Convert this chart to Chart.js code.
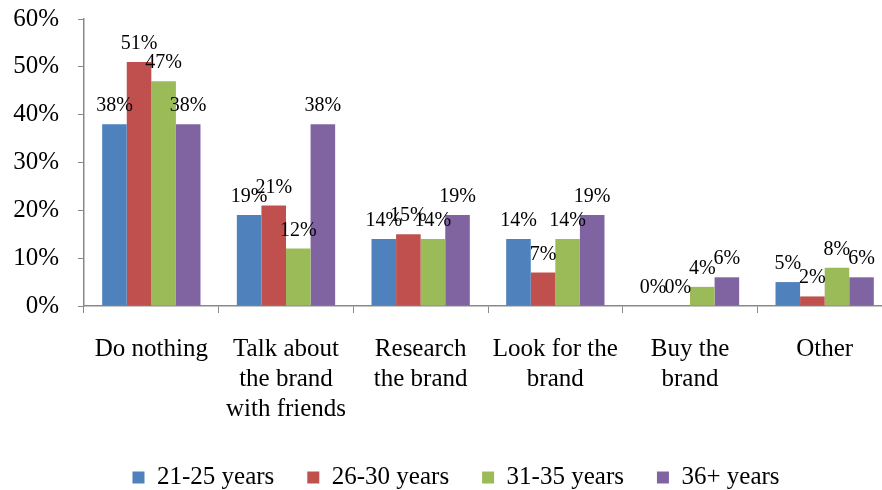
<!DOCTYPE html>
<html>
<head>
<meta charset="utf-8">
<script src="https://cdn.jsdelivr.net/npm/chart.js@4/dist/chart.umd.min.js"></script>
<style>
  html, body { margin: 0; padding: 0; background: #fff; overflow: hidden; }
  #wrap { width: 892px; height: 490px; }
</style>
</head>
<body>
<div id="wrap"><canvas id="chart" width="892" height="490"></canvas></div>
<script>
const categories = [
  ["Do nothing"],
  ["Talk about", "the brand", "with friends"],
  ["Research", "the brand"],
  ["Look for the", "brand"],
  ["Buy the", "brand"],
  ["Other"],
];
const ages = ["21-25 years", "26-30 years", "31-35 years", "36+ years"];
const age21to25 = [38, 19, 14, 14, 0, 5];
const age26to30 = [51, 21, 15, 7, 0, 2];
const age31to35 = [47, 12, 14, 14, 4, 8];
const age36plus = [38, 38, 19, 19, 6, 6];
const yTicks = [0, 10, 20, 30, 40, 50, 60];

const colors = ["#4F81BD", "#C0504D", "#9BBB59", "#8064A2"];
const AXIS = "#898989";
const SERIF = "'Liberation Serif', 'Times New Roman', serif";

// percent labels above each bar
const barLabels = {
  id: "barLabels",
  afterDatasetsDraw(chart) {
    const { ctx } = chart;
    ctx.save();
    ctx.font = `20px ${SERIF}`;
    ctx.fillStyle = "#000";
    ctx.textAlign = "center";
    ctx.textBaseline = "alphabetic";
    chart.data.datasets.forEach((ds, i) => {
      chart.getDatasetMeta(i).data.forEach((bar, j) => {
        ctx.fillText(ds.data[j] + "%", bar.x, bar.y - 13);
      });
    });
    ctx.restore();
  },
};

// nudge the legend row a little to the right
const legendShift = {
  id: "legendShift",
  afterLayout(chart) {
    if (chart.legend) chart.legend.left += 20;
  },
};

new Chart(document.getElementById("chart"), {
  type: "bar",
  data: {
    labels: categories,
    datasets: [age21to25, age26to30, age31to35, age36plus].map((d, i) => ({
      label: ages[i],
      data: d,
      backgroundColor: colors[i],
      categoryPercentage: 0.73,
      barPercentage: 1.0,
    })),
  },
  options: {
    responsive: false,
    animation: false,
    layout: { padding: { top: 19, left: 0, right: 0, bottom: -10 } },
    plugins: {
      legend: {
        position: "bottom",
        labels: {
          color: "#000",
          font: { family: SERIF, size: 25 },
          boxWidth: 12,
          boxHeight: 12,
          padding: 33,
        },
      },
      tooltip: { enabled: false },
    },
    scales: {
      x: {
        grid: { drawOnChartArea: false, drawTicks: true, tickLength: 7, color: AXIS, offset: true },
        border: { color: AXIS, width: 1.5 },
        ticks: { color: "#000", font: { family: SERIF, size: 25 }, padding: 21, maxRotation: 0, autoSkip: false },
        afterFit: (s) => { s.height = 126; },
      },
      y: {
        min: 0,
        max: 60,
        afterBuildTicks: (s) => { s.ticks = yTicks.map((v) => ({ value: v })); },
        grid: { drawOnChartArea: false, drawTicks: true, tickLength: 6, color: AXIS },
        border: { color: AXIS, width: 1.5 },
        ticks: { color: "#000", font: { family: SERIF, size: 25 }, padding: 19, callback: (v) => v + "%" },
        afterFit: (s) => { s.width = 84; s.paddingTop = 0; s.paddingBottom = 0; },
      },
    },
  },
  plugins: [barLabels, legendShift],
});
</script>
</body>
</html>
